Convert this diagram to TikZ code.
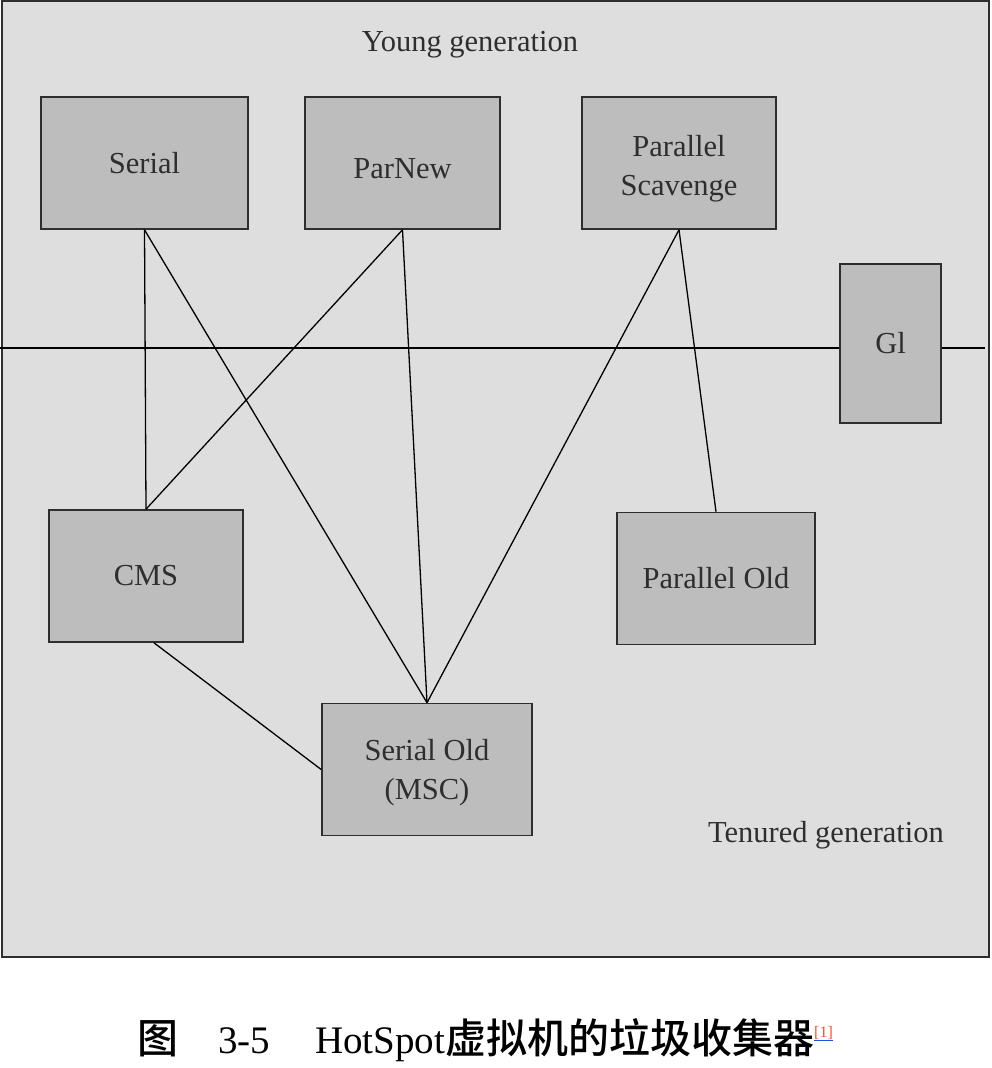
\documentclass[tikz,border=0pt]{standalone}
\usepackage{fontspec}
\setmainfont{Liberation Serif}
\newfontfamily\cjk{Noto Sans CJK SC}[BoldFont={Noto Sans CJK SC Medium}]
\definecolor{panel}{HTML}{DEDEDE}
\definecolor{boxgray}{HTML}{BDBDBD}
\definecolor{inkgray}{HTML}{2E2E2E}
\definecolor{refred}{HTML}{E8572B}
\definecolor{refblue}{HTML}{1F4FE0}
\newcommand{\lowered}[2]{\raisebox{-#1}[\height][\depth]{\begin{tabular}{@{}c@{}}#2\end{tabular}}}
\begin{document}
\begin{tikzpicture}[x=1pt,y=-1pt,
  gc/.style={draw=inkgray,line width=1.6pt,fill=boxgray,minimum height=132pt,inner sep=0pt,
    align=center,text=inkgray,font=\fontsize{30.5}{39}\selectfont},
  gen/.style={text=inkgray,font=\fontsize{30.5}{39}\selectfont},
  link/.style={draw=black,line width=1.3pt}]
\useasboundingbox (0,0) rectangle (992,1068);
\draw [fill=panel,draw=inkgray,line width=2pt] (2,1) rectangle (989,957);
\coordinate (lineL) at (0,348);
\coordinate (lineR) at (985,348);
\draw [link] (lineL) -- (lineR);
\node (young) [gen] at (470,45) {Young generation};
\node (tenured) [gen] at (826,835) {Tenured generation};
\node (serial) [gc,minimum width=207pt] at (144.5,163) {Serial};
\node (parnew) [gc,minimum width=195pt] at (402.5,163) {\lowered{8pt}{ParNew}};
\node (scavenge) [gc,minimum width=194pt] at (679,163) {\lowered{5pt}{Parallel\\Scavenge}};
\node (gone) [gc,minimum width=101pt,minimum height=159pt] at (890.5,343.5) {Gl};
\node (cms) [gc,minimum width=194pt] at (146,576) {CMS};
\node (parold) [gc,minimum width=198pt] at (716,578.5) {Parallel Old};
\node (serialold) [gc,minimum width=210pt] at (427,769.5) {\lowered{3pt}{Serial Old\\(MSC)}};
\draw [link] (serial.south) -- (cms.north);
\draw [link] (serial.south) -- (serialold.north);
\draw [link] (parnew.south) -- (cms.north);
\draw [link] (parnew.south) -- (serialold.north);
\draw [link] (scavenge.south) -- (serialold.north);
\draw [link] (scavenge.south) -- (parold.north);
\draw [link] ([xshift=8pt]cms.south) -- (serialold.west);
% caption
\node (caption) [anchor=base west,inner sep=0pt,font=\fontsize{39}{45}\selectfont] at (137,1053)
  {{\cjk\bfseries\fontsize{41}{45}\selectfont 图}\hspace{40pt}3-5\hspace{45pt}HotSpot{\cjk\bfseries\fontsize{41}{45}\selectfont 虚拟机的垃圾收集器}\raisebox{16pt}{\fontsize{16}{16}\selectfont\textcolor{refblue}{\underline{\textcolor{refred}{[1]}}}}};
\end{tikzpicture}
\end{document}
